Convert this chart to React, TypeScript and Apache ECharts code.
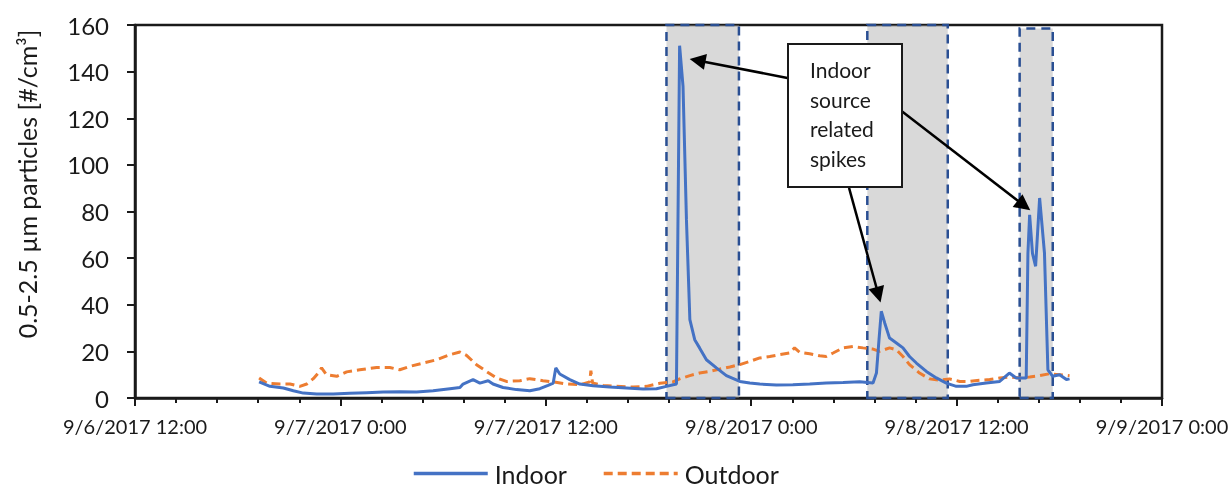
import React, { useEffect, useRef } from "react";
import * as echarts from "echarts";

// Particle counts (0.5–2.5 µm, #/cm³), sampled as "month/day hh:mm" in 2017
const indoorTimes = [
  "9/6 19:15", "9/6 19:53", "9/6 20:40", "9/6 21:15", "9/6 21:50", "9/6 22:37", "9/6 23:35",
  "9/7 00:33", "9/7 01:32", "9/7 02:30", "9/7 03:28", "9/7 04:27", "9/7 05:25", "9/7 06:24",
  "9/7 06:59", "9/7 07:10", "9/7 07:45", "9/7 08:09", "9/7 08:38", "9/7 08:55", "9/7 09:30",
  "9/7 10:17", "9/7 11:04", "9/7 11:39", "9/7 12:08", "9/7 12:26", "9/7 12:35", "9/7 12:49",
  "9/7 13:24", "9/7 13:59", "9/7 14:46", "9/7 15:44", "9/7 16:43", "9/7 17:41", "9/7 18:28",
  "9/7 19:03", "9/7 19:38", "9/7 19:49", "9/7 20:01", "9/7 20:13", "9/7 20:25", "9/7 20:42",
  "9/7 20:59", "9/7 21:23", "9/7 21:58", "9/7 22:33", "9/7 23:20", "9/7 23:55", "9/8 00:30",
  "9/8 01:28", "9/8 02:26", "9/8 03:25", "9/8 04:23", "9/8 05:22", "9/8 06:20", "9/8 07:07",
  "9/8 07:19", "9/8 07:28", "9/8 07:36", "9/8 07:48", "9/8 08:05", "9/8 08:29", "9/8 08:52",
  "9/8 09:15", "9/8 09:39", "9/8 10:14", "9/8 10:49", "9/8 11:24", "9/8 11:59", "9/8 12:34",
  "9/8 12:57", "9/8 13:44", "9/8 14:31", "9/8 15:05", "9/8 15:29", "9/8 16:04", "9/8 16:10",
  "9/8 16:16", "9/8 16:26", "9/8 16:37", "9/8 16:51", "9/8 17:08", "9/8 17:20", "9/8 17:37",
  "9/8 18:01", "9/8 18:25", "9/8 18:36",
];
const indoorValues = [
  6.9, 5.0, 4.3, 3.1, 2.1, 1.7, 1.7,
  2.0, 2.3, 2.6, 2.7, 2.6, 3.1, 4.0,
  4.5, 6.0, 7.9, 6.4, 7.4, 6.0, 4.5,
  3.6, 3.1, 4.0, 5.4, 6.4, 12.9, 10.3,
  7.9, 6.0, 5.3, 4.7, 4.3, 3.9, 4.0,
  5.0, 6.0, 151.1, 133.7, 76.5, 33.6, 25.0,
  21.5, 16.4, 12.9, 9.6, 7.1, 6.4, 6.0,
  5.6, 5.7, 6.0, 6.4, 6.7, 7.0, 6.4,
  10.7, 25.0, 37.2, 32.2, 25.7, 23.6, 21.5,
  17.8, 15.0, 11.4, 8.6, 6.4, 5.0, 5.0,
  5.7, 6.4, 7.1, 10.7, 8.6, 8.6, 62.0,
  78.6, 62.0, 56.5, 85.8, 62.2, 12.1, 9.3,
  10.0, 7.9, 8.2,
];

const outdoorTimes = [
  "9/6 19:15", "9/6 19:41", "9/6 20:28", "9/6 21:03", "9/6 21:38", "9/6 22:02", "9/6 22:25",
  "9/6 22:42", "9/6 22:54", "9/6 23:11", "9/6 23:47", "9/7 00:22", "9/7 01:08", "9/7 02:07",
  "9/7 02:53", "9/7 03:28", "9/7 04:04", "9/7 04:50", "9/7 05:37", "9/7 06:24", "9/7 06:59",
  "9/7 07:22", "9/7 07:57", "9/7 08:32", "9/7 09:07", "9/7 09:42", "9/7 10:29", "9/7 11:04",
  "9/7 11:50", "9/7 12:26", "9/7 13:13", "9/7 13:59", "9/7 14:34", "9/7 14:38", "9/7 14:44",
  "9/7 15:21", "9/7 16:08", "9/7 17:06", "9/7 17:53", "9/7 18:40", "9/7 19:26", "9/7 19:49",
  "9/7 20:25", "9/7 20:59", "9/7 21:35", "9/7 22:10", "9/7 22:45", "9/7 23:20", "9/7 23:55",
  "9/8 00:30", "9/8 01:05", "9/8 01:40", "9/8 02:15", "9/8 02:32", "9/8 02:50", "9/8 03:25",
  "9/8 04:00", "9/8 04:23", "9/8 04:47", "9/8 05:22", "9/8 05:57", "9/8 06:32", "9/8 07:07",
  "9/8 07:30", "9/8 08:05", "9/8 08:29", "9/8 08:52", "9/8 09:15", "9/8 09:50", "9/8 10:25",
  "9/8 11:01", "9/8 11:35", "9/8 12:11", "9/8 12:46", "9/8 13:20", "9/8 13:56", "9/8 14:31",
  "9/8 15:05", "9/8 15:41", "9/8 16:16", "9/8 16:51", "9/8 17:26", "9/8 18:01", "9/8 18:36",
];
const outdoorValues = [
  8.6, 6.4, 6.0, 6.0, 5.0, 6.0, 8.3,
  10.7, 12.9, 10.0, 9.3, 11.2, 12.1, 13.1,
  13.1, 12.1, 13.6, 15.0, 16.4, 18.6, 19.7,
  18.3, 14.3, 11.4, 8.6, 7.1, 7.4, 8.3,
  7.4, 6.9, 6.0, 5.7, 6.9, 11.7, 6.4,
  5.4, 5.0, 4.7, 5.0, 6.3, 6.9, 8.2,
  9.6, 10.7, 11.4, 12.4, 13.3, 14.3, 15.7,
  17.2, 17.8, 18.6, 19.3, 21.5, 19.6, 19.0,
  18.1, 17.8, 19.3, 21.5, 22.1, 21.5, 21.0,
  20.0, 21.5, 20.7, 17.8, 14.3, 10.7, 8.2,
  7.6, 8.2, 7.1, 7.1, 7.6, 7.9, 8.6,
  9.0, 8.6, 9.0, 9.6, 10.4, 10.0, 9.6,
];

// Highlighted indoor-source episodes
const episodeStarts = ["9/7 19:03", "9/8 06:47", "9/8 15:41"];
const episodeEnds = ["9/7 23:17", "9/8 11:29", "9/8 17:37"];
const episodeTops = [160, 160, 158.5];

// Callout arrows: from the note box towards each spike
const arrowFrom: [string, number][] = [["9/8 02:07", 137.3], ["9/8 05:43", 90.1], ["9/8 08:48", 123.0]];
const arrowTo: [string, number][] = [["9/7 20:52", 144.8], ["9/8 07:26", 44.3], ["9/8 15:56", 82.6]];

const xTickLabels = ["9/6/2017 12:00", "9/7/2017 0:00", "9/7/2017 12:00", "9/8/2017 0:00", "9/8/2017 12:00", "9/9/2017 0:00"];

const FONT = "Lato, 'Noto Sans', sans-serif";
const INK = "#1a1a1a";

// hours elapsed since 9/6/2017 12:00
function toHours(t: string): number {
  const [md, hm] = t.split(" ");
  const day = Number(md.split("/")[1]);
  const [hh, mm] = hm.split(":").map(Number);
  return (day - 6) * 24 + hh + mm / 60 - 12;
}

export default function App() {
  const ref = useRef<HTMLDivElement>(null);

  useEffect(() => {
    if (!ref.current) return;
    const chart = echarts.init(ref.current, null, { renderer: "svg" });

    const indoor = indoorTimes.map((t, i) => [toHours(t), indoorValues[i]]);
    const outdoor = outdoorTimes.map((t, i) => [toHours(t), outdoorValues[i]]);

    chart.setOption({
      animation: false,
      textStyle: { fontFamily: FONT },
      grid: {
        left: 135,
        right: 66,
        top: 25,
        bottom: 91,
        outerBoundsMode: "none",
        containLabel: false,
        show: true,
        borderColor: INK,
        borderWidth: 2.5,
        backgroundColor: "transparent",
      },
      legend: {
        data: ["Indoor", "Outdoor"],
        left: 412,
        top: 461,
        padding: 0,
        itemWidth: 74,
        itemHeight: 14,
        itemGap: 35,
        itemStyle: { opacity: 0 },
        lineStyle: { width: 3.5 },
        textStyle: { fontFamily: FONT, fontSize: 25, color: INK, padding: [0, 0, 0, 2] },
      },
      xAxis: {
        type: "value",
        min: 0,
        max: 60,
        interval: 12,
        axisLine: { show: true, lineStyle: { color: INK, width: 2.5 } },
        axisTick: { show: true, length: 8, lineStyle: { color: INK, width: 2 } },
        minorTick: { show: true, splitNumber: 5, length: 5, lineStyle: { color: INK, width: 2 } },
        splitLine: { show: false },
        axisLabel: {
          margin: 18,
          fontFamily: FONT,
          fontSize: 20,
          color: INK,
          formatter: (v: number) => xTickLabels[Math.round(v / 12)] ?? "",
        },
      },
      yAxis: {
        type: "value",
        min: 0,
        max: 160,
        interval: 20,
        axisLine: { show: true, lineStyle: { color: INK, width: 2.5 } },
        axisTick: { show: true, length: 8, lineStyle: { color: INK, width: 2 } },
        splitLine: { show: false },
        axisLabel: { margin: 26, fontFamily: FONT, fontSize: 24, color: INK },
      },
      series: [
        {
          name: "Indoor",
          type: "line",
          data: indoor,
          symbol: "none",
          z: 3,
          lineStyle: { color: "#4472C4", width: 3 },
          itemStyle: { color: "#4472C4" },
        },
        {
          name: "Outdoor",
          type: "line",
          data: outdoor,
          symbol: "none",
          z: 2,
          lineStyle: { color: "#ED7D31", width: 3, type: [9, 5] },
          itemStyle: { color: "#ED7D31" },
        },
        {
          name: "episodes",
          type: "line",
          data: [],
          z: 5,
          silent: true,
          markArea: {
            silent: true,
            itemStyle: {
              color: "rgba(160,160,160,0.40)",
              borderColor: "#2A4F93",
              borderWidth: 2.5,
              borderType: [9, 6],
            },
            data: episodeStarts.map((s, i) => [
              { xAxis: toHours(s), yAxis: 0 },
              { xAxis: toHours(episodeEnds[i]), yAxis: episodeTops[i] },
            ]),
          },
          markLine: {
            silent: true,
            symbol: ["none", "triangle"],
            symbolSize: 16,
            label: { show: false },
            lineStyle: { color: "#000", width: 2.5, type: "solid" },
            data: arrowFrom.map((f, i) => [
              { coord: [toHours(f[0]), f[1]] },
              { coord: [toHours(arrowTo[i][0]), arrowTo[i][1]] },
            ]),
          },
        },
      ],
      graphic: [
        {
          type: "text",
          x: 27,
          y: 184,
          rotation: Math.PI / 2,
          z: 10,
          style: {
            text: "0.5-2.5 µm particles [#/cm³]",
            fontFamily: FONT,
            fontSize: 25,
            fill: INK,
            align: "center",
            verticalAlign: "middle",
          },
        },
        {
          type: "group",
          x: 788,
          y: 44,
          z: 20,
          children: [
            {
              type: "rect",
              shape: { x: 0, y: 0, width: 114, height: 143 },
              style: { fill: "#fff", stroke: INK, lineWidth: 2 },
              z: 20,
            },
            {
              type: "text",
              x: 22,
              y: 70,
              z: 21,
              style: {
                text: "Indoor\nsource\nrelated\nspikes",
                fontFamily: FONT,
                fontSize: 21,
                lineHeight: 29.5,
                fill: INK,
                align: "left",
                verticalAlign: "middle",
              },
            },
          ],
        },
      ],
    });

    return () => chart.dispose();
  }, []);

  return <div ref={ref} style={{ position: "fixed", left: 0, top: 0, width: 1228, height: 489 }} />;
}
